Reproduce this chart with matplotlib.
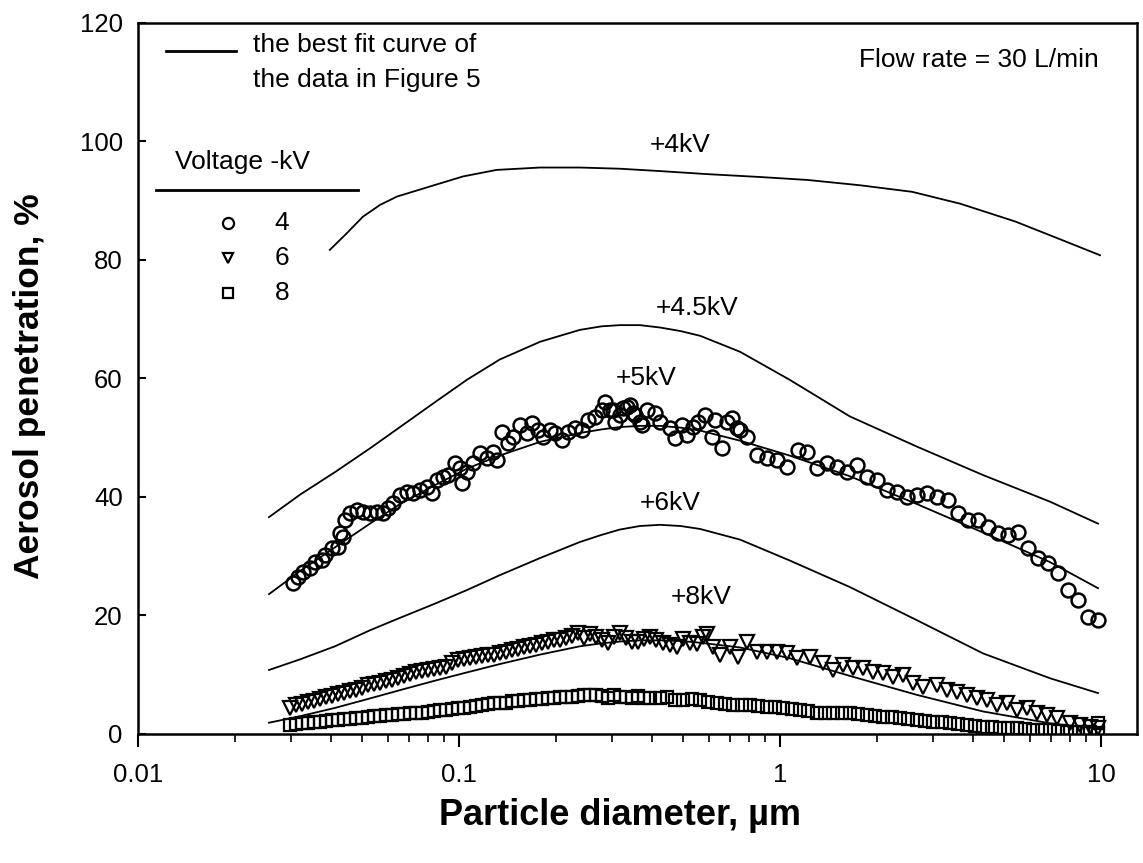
import matplotlib.pyplot as plt
from matplotlib.ticker import NullFormatter

plt.rcParams['font.family'] = ['Liberation Sans', 'DejaVu Sans']

# best fit curves
fit4_x = [0.0396, 0.0447, 0.0502, 0.0568, 0.0641, 0.0812, 0.103, 0.131, 0.179, 0.238,
          0.317, 0.423, 0.588, 0.867, 1.22, 1.78, 2.58, 3.64, 5.40, 7.45, 9.93]
fit4_y = [81.7, 84.5, 87.3, 89.3, 90.7, 92.4, 94.1, 95.2, 95.6, 95.6,
          95.4, 95.0, 94.5, 94.0, 93.5, 92.6, 91.5, 89.5, 86.5, 83.5, 80.8]

fit_x = [0.0256, 0.0320, 0.0411, 0.0528, 0.0655, 0.0842, 0.106, 0.134, 0.179, 0.238,
         0.278, 0.317, 0.366, 0.423, 0.490, 0.564, 0.751, 1.07, 1.65, 2.67, 4.29, 6.94, 9.79]
fit45_y = [36.6, 40.4, 44.2, 48.2, 51.8, 56.0, 59.8, 63.2, 66.2, 68.2,
           68.8, 69.0, 69.0, 68.6, 68.0, 67.2, 64.5, 59.8, 53.6, 48.5, 43.7, 39.2, 35.5]
fit5_y = [23.6, 27.5, 31.5, 35.5, 38.8, 42.0, 44.8, 47.0, 49.3, 50.8,
          51.4, 51.8, 52.0, 52.0, 51.7, 51.2, 49.5, 47.0, 43.5, 38.8, 34.0, 29.0, 24.6]
fit6_y = [10.8, 12.6, 14.8, 17.5, 19.6, 22.0, 24.3, 26.8, 29.7, 32.4,
          33.6, 34.5, 35.1, 35.3, 35.1, 34.6, 32.8, 29.3, 24.8, 19.2, 13.6, 9.4, 6.9]
fit8_y = [1.9, 3.0, 4.4, 6.0, 7.4, 9.0, 10.4, 11.8, 13.4, 14.8,
          15.3, 15.6, 15.8, 15.8, 15.7, 15.4, 14.6, 12.8, 9.8, 6.6, 3.8, 1.8, 0.9]

fit_labels = ['+4kV', '+4.5kV', '+5kV', '+6kV', '+8kV']
label_x = [0.49, 0.55, 0.384, 0.454, 0.57]
label_y = [99.4, 71.9, 60.1, 39.0, 23.1]

# measured data, -4 kV (circles)
circ_x = [0.0304, 0.0315, 0.0327, 0.0343, 0.0356, 0.0374, 0.0382, 0.0402, 0.0420, 0.0426,
          0.0435, 0.0441, 0.0458, 0.0481, 0.0502, 0.0528, 0.0555, 0.0580, 0.0601, 0.0623,
          0.0655, 0.0689, 0.0719, 0.0756, 0.0795, 0.0824, 0.0854, 0.0892, 0.0924, 0.0972,
          0.1007, 0.1022, 0.1059, 0.1106, 0.1163, 0.1223, 0.1276, 0.1313, 0.1361, 0.1421,
          0.1473, 0.1549, 0.1629, 0.1689, 0.1763, 0.1827, 0.1921, 0.1991, 0.2094, 0.2186,
          0.2298, 0.2417, 0.2523, 0.2653, 0.2790, 0.2850, 0.2955, 0.3019, 0.3062, 0.3174,
          0.3244, 0.3338, 0.3411, 0.3485, 0.3535, 0.3664, 0.3717, 0.3852, 0.408, 0.4228,
          0.4544, 0.471, 0.495, 0.5131, 0.536, 0.5553, 0.5838, 0.614, 0.6274, 0.6597,
          0.6838, 0.7089, 0.735, 0.7508, 0.789, 0.848, 0.911, 0.979, 1.051, 1.138,
          1.214, 1.304, 1.401, 1.505, 1.617, 1.738, 1.866, 2.005, 2.154, 2.315,
          2.487, 2.672, 2.870, 3.084, 3.337, 3.585, 3.852, 4.138, 4.446, 4.777,
          5.131, 5.513, 5.923, 6.364, 6.837, 7.345, 7.891, 8.479, 9.109, 9.786]
circ_y = [25.5, 26.5, 27.4, 28.0, 29.0, 29.4, 30.2, 31.4, 31.6, 33.9,
          33.3, 36.1, 37.3, 37.8, 37.5, 37.3, 37.5, 37.3, 38.2, 39.0,
          40.4, 40.9, 40.7, 41.2, 41.7, 40.7, 42.9, 43.4, 43.7, 45.8,
          44.9, 42.4, 44.2, 45.8, 47.4, 46.6, 47.6, 46.3, 51.0, 49.1,
          50.1, 52.2, 50.8, 52.5, 51.3, 50.1, 51.3, 50.8, 49.6, 51.0,
          51.7, 51.3, 53.0, 53.5, 54.7, 56.0, 54.7, 54.7, 52.7, 53.9,
          55.0, 55.2, 55.5, 54.2, 53.9, 52.7, 52.2, 54.7, 54.2, 52.7,
          51.7, 50.0, 52.2, 50.5, 51.8, 52.7, 53.9, 50.1, 53.0, 48.3,
          52.7, 53.4, 51.7, 51.3, 50.1, 47.1, 46.6, 46.3, 45.1, 48.0,
          47.6, 44.9, 45.8, 45.1, 44.2, 45.4, 43.4, 42.9, 41.2, 40.9,
          40.0, 40.4, 40.7, 40.0, 39.5, 37.3, 36.1, 36.1, 34.9, 33.9,
          33.6, 34.1, 31.4, 29.7, 28.9, 27.2, 24.3, 22.6, 19.8, 19.2]

# measured data, -6 kV (triangles)
tri_x = [0.0298, 0.0311, 0.0324, 0.0339, 0.0354, 0.0369, 0.0386, 0.0402, 0.0420, 0.0439,
         0.0458, 0.0478, 0.0499, 0.0521, 0.0544, 0.0568, 0.0593, 0.0619, 0.0646, 0.0675,
         0.0704, 0.0735, 0.0768, 0.0801, 0.0837, 0.0873, 0.0912, 0.0952, 0.0994, 0.1038,
         0.1083, 0.1131, 0.1181, 0.1233, 0.1287, 0.1344, 0.1403, 0.1464, 0.1529, 0.1596,
         0.1666, 0.1740, 0.1816, 0.1896, 0.1980, 0.2067, 0.2158, 0.2253, 0.2352, 0.2455,
         0.2563, 0.2676, 0.2794, 0.2917, 0.3045, 0.3179, 0.3319, 0.3465, 0.3617, 0.3776,
         0.3943, 0.4109, 0.4321, 0.4544, 0.4777, 0.4987, 0.5244, 0.5514, 0.5757, 0.5924,
         0.6185, 0.6503, 0.6988, 0.7400, 0.7891, 0.8478, 0.9109, 0.9787, 1.0515, 1.1297,
         1.2406, 1.3614, 1.4628, 1.5716, 1.6885, 1.8141, 1.9491, 2.0941, 2.2499, 2.4174,
         2.5972, 2.7904, 3.0840, 3.3135, 3.5600, 3.8249, 4.1098, 4.4157, 4.7443, 5.0975,
         5.4767, 5.8842, 6.3220, 6.7927, 7.2981, 8.0087, 8.6046, 9.2449, 9.7872]
tri_y = [4.4, 4.9, 5.0, 5.4, 5.6, 5.9, 6.2, 6.4, 6.7, 7.0,
         7.3, 7.5, 7.8, 8.2, 8.4, 8.6, 8.9, 9.1, 9.5, 9.8,
         10.1, 10.4, 10.6, 10.8, 11.0, 11.2, 11.3, 12.0, 12.5, 12.6,
         12.8, 13.0, 13.2, 13.3, 13.3, 13.6, 13.9, 14.1, 14.4, 14.6,
         14.8, 15.1, 15.4, 15.6, 15.8, 15.9, 16.2, 16.6, 17.0, 16.2,
         16.8, 16.4, 15.8, 15.4, 16.3, 17.0, 16.2, 15.6, 15.5, 16.0,
         16.4, 15.9, 15.4, 15.0, 14.7, 16.0, 15.4, 15.2, 16.4, 16.8,
         14.7, 13.3, 14.7, 13.0, 15.5, 13.8, 13.8, 13.8, 13.7, 12.8,
         13.0, 12.0, 10.8, 11.6, 11.1, 11.1, 10.5, 10.3, 9.6, 10.0,
         8.6, 7.9, 8.3, 7.4, 7.1, 6.6, 6.1, 5.7, 4.9, 5.2,
         4.1, 4.4, 3.5, 3.2, 2.7, 1.9, 1.5, 1.2, 1.0]

# measured data, -8 kV (squares)
sq_x = [0.0298, 0.0311, 0.0324, 0.0339, 0.0354, 0.0369, 0.0386, 0.0402, 0.0420, 0.0439,
        0.0458, 0.0478, 0.0499, 0.0521, 0.0544, 0.0568, 0.0593, 0.0619, 0.0646, 0.0675,
        0.0704, 0.0735, 0.0768, 0.0801, 0.0837, 0.0873, 0.0912, 0.0952, 0.0994, 0.1038,
        0.1083, 0.1131, 0.1181, 0.1233, 0.1287, 0.1344, 0.1403, 0.1464, 0.1529, 0.1596,
        0.1666, 0.1740, 0.1816, 0.1896, 0.1980, 0.2067, 0.2158, 0.2253, 0.2352, 0.2455,
        0.2563, 0.2676, 0.2794, 0.2917, 0.3045, 0.3179, 0.3319, 0.3465, 0.3617, 0.3776,
        0.3943, 0.4228, 0.4446, 0.4710, 0.4987, 0.5319, 0.5635, 0.5966, 0.6365, 0.6740,
        0.7137, 0.7614, 0.8063, 0.8539, 0.9109, 0.9647, 1.0218, 1.0899, 1.1541, 1.2229,
        1.3044, 1.3813, 1.4628, 1.5604, 1.6524, 1.7501, 1.8666, 1.9767, 2.0941, 2.2337,
        2.3655, 2.5050, 2.6720, 2.8302, 2.9970, 3.1967, 3.3855, 3.5856, 3.8249, 4.0508,
        4.2909, 4.5761, 4.8474, 5.1342, 5.4767, 5.8004, 6.1425, 6.5520, 6.9405, 7.3479,
        7.8383, 8.2998, 8.7902, 9.2449, 9.7872, 9.7872]
sq_y = [1.5, 1.7, 1.8, 1.9, 2.0, 2.1, 2.2, 2.3, 2.4, 2.5,
        2.6, 2.7, 2.7, 2.9, 3.0, 3.1, 3.2, 3.2, 3.3, 3.4,
        3.5, 3.6, 3.6, 3.7, 3.9, 4.0, 4.1, 4.3, 4.4, 4.4,
        4.6, 4.8, 4.9, 5.0, 5.2, 5.2, 5.3, 5.5, 5.6, 5.7,
        5.8, 5.9, 5.9, 6.0, 6.1, 6.2, 6.2, 6.3, 6.4, 6.6,
        6.6, 6.5, 6.4, 6.1, 6.5, 6.3, 6.2, 6.0, 6.4, 6.1,
        6.1, 6.0, 6.2, 5.8, 5.7, 5.9, 5.7, 5.4, 5.2, 5.0,
        4.9, 4.9, 4.9, 4.7, 4.6, 4.5, 4.4, 4.3, 4.1, 3.8,
        3.5, 3.5, 3.5, 3.5, 3.5, 3.3, 3.2, 3.0, 2.9, 2.8,
        2.7, 2.5, 2.4, 2.2, 2.0, 2.0, 1.9, 1.7, 1.5, 1.3,
        1.2, 1.1, 1.0, 1.0, 1.0, 0.8, 0.7, 0.7, 0.7, 0.5,
        0.3, 0.3, 0.3, 0.3, 0.2, 1.8]

legend_values = ['4', '6', '8']

fig = plt.figure(figsize=(11.43, 8.63), dpi=100)
ax = fig.add_axes([0.1207, 0.1495, 0.8741, 0.8239])

# fit curves
for fy in [fit45_y, fit5_y, fit6_y, fit8_y]:
    ax.plot(fit_x, fy, color='black', lw=1.3, zorder=2)
ax.plot(fit4_x, fit4_y, color='black', lw=1.3, zorder=2)

# data
ax.plot(circ_x, circ_y, 'o', ms=10, mfc='none', mec='black', mew=1.8, zorder=3)
ax.plot(tri_x, tri_y, 'v', ms=9.5, mfc='none', mec='black', mew=1.6, zorder=3)
ax.plot(sq_x, sq_y, 's', ms=8, mfc='none', mec='black', mew=1.6, zorder=3)

for t, x, y in zip(fit_labels, label_x, label_y):
    ax.text(x, y, t, fontsize=19, ha='center', va='center')

ax.text(0.962, 0.948, 'Flow rate = 30 L/min', transform=ax.transAxes,
        fontsize=19, ha='right', va='center')

# hand-drawn legend
ax.plot([0.028, 0.098], [0.961, 0.961], transform=ax.transAxes, color='black', lw=2)
ax.text(0.115, 0.969, 'the best fit curve of', transform=ax.transAxes, fontsize=19,
        ha='left', va='center')
ax.text(0.115, 0.920, 'the data in Figure 5', transform=ax.transAxes, fontsize=19,
        ha='left', va='center')
ax.text(0.037, 0.8045, 'Voltage -kV', transform=ax.transAxes, fontsize=19,
        ha='left', va='center')
ax.plot([0.018, 0.220], [0.765, 0.765], transform=ax.transAxes, color='black', lw=2)
leg_markers = ['o', 'v', 's']
leg_sizes = [8, 7.5, 6.5]
leg_y = [0.7187, 0.6695, 0.6203]
for m, s, yy, lab in zip(leg_markers, leg_sizes, leg_y, legend_values):
    ax.plot([0.090], [yy], m, ms=s, mfc='none', mec='black', mew=1.6,
            transform=ax.transAxes, clip_on=False)
    ax.text(0.144, yy, lab, transform=ax.transAxes, fontsize=19, ha='center', va='center')

ax.set_xscale('log')
ax.set_xlim(0.01, 12.95)
ax.set_ylim(0, 120)
ax.set_xticks([0.01, 0.1, 1, 10])
ax.set_xticklabels(['0.01', '0.1', '1', '10'])
ax.xaxis.set_minor_formatter(NullFormatter())
ax.set_yticks([0, 20, 40, 60, 80, 100, 120])

ax.tick_params(axis='x', which='major', direction='out', length=9, width=1.5,
               labelsize=18.5, pad=12)
ax.tick_params(axis='x', which='minor', direction='out', length=6, width=1.2)
ax.tick_params(axis='y', which='major', direction='in', length=6, width=1.5,
               labelsize=18.5, pad=11)
for sp in ax.spines.values():
    sp.set_linewidth(1.8)

fig.text(0.5424, 0.0556, 'Particle diameter, µm', fontsize=26, fontweight='bold',
         ha='center', va='center')
fig.text(0.0262, 0.5527, 'Aerosol penetration, %', fontsize=25.5, fontweight='bold',
         ha='center', va='center', rotation=90)

fig.savefig('out.png', dpi=100)
